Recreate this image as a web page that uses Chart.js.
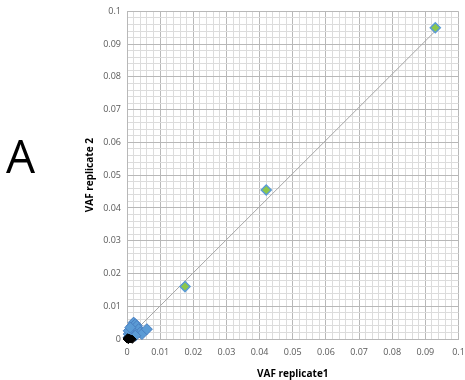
<!DOCTYPE html>
<html>
<head>
<meta charset="utf-8">
<script src="https://cdn.jsdelivr.net/npm/chart.js@4"></script>
<style>
  body { margin: 0; background: #fff; }
  #wrap { position: relative; width: 465px; height: 380px; }
  #label { position: absolute; left: 6px; top: 124px; font: 46px "Open Sans", "Liberation Sans", sans-serif; color: #000; }
</style>
</head>
<body>
<div id="wrap">
  <canvas id="chart" width="465" height="380"></canvas>
  <div id="label">A</div>
</div>
<script>
// Data
const highX = [0.0175, 0.042, 0.093]
const highY = [0.016, 0.0455, 0.095]
const lowX = [0.0005, 0.001, 0.0015, 0.002, 0.002, 0.0025, 0.003, 0.003, 0.0035, 0.004, 0.0045, 0.006, 0.001, 0.0005, 0.002, 0.0015, 0.001, 0.0025, 0.0005, 0.001]
const lowY = [0.0005, 0.001, 0.004, 0.005, 0.003, 0.0045, 0.004, 0.002, 0.003, 0.002, 0.0015, 0.003, 0.003, 0.0015, 0.0015, 0.0025, 0.002, 0.001, 0.0025, 0.0035]
const zeroX = [0, 0.0004, 0.0008, 0.0012, 0.0002, 0.0006, 0.0016]
const zeroY = [0, -0.0002, 0.0002, 0, 0.0004, 0.0001, -0.0001]
const lineX = [0, 0.093]
const lineY = [0, 0.094]

const pts = (xs, ys) => xs.map((x, i) => ({ x, y: ys[i] }))
const isMajor = v => Math.abs(v * 100 - Math.round(v * 100)) < 1e-6
const tickFont = { family: "'Open Sans', 'Liberation Sans', sans-serif", size: 9 }
const titleFont = { family: "'Open Sans', 'Liberation Sans', sans-serif", size: 10, weight: 'bold' }

const gridOpts = {
  drawTicks: false,
  color: ctx => isMajor(ctx.tick.value) ? '#b8b8b8' : '#dcdcdc',
  lineWidth: 1
}

new Chart(document.getElementById('chart'), {
  type: 'scatter',
  data: {
    datasets: [
      { label: 'fit', type: 'line', data: pts(lineX, lineY), borderColor: '#a6a6a6', borderWidth: 1, pointRadius: 0, order: 3 },
      { label: 'zero', data: pts(zeroX, zeroY), pointStyle: 'rectRot', pointRadius: 4, backgroundColor: '#000', borderColor: '#000', order: 1 },
      { label: 'low', data: pts(lowX, lowY), pointStyle: 'rectRot', pointRadius: 5.5, backgroundColor: '#5b9bd5', borderColor: '#4a7fc0', borderWidth: 1, order: 2 },
      { label: 'high', data: pts(highX, highY), pointStyle: 'rectRot', pointRadius: 5, backgroundColor: '#8cc84b', borderColor: '#5b9bd5', borderWidth: 1.5, order: 0 }
    ]
  },
  options: {
    responsive: false,
    animation: false,
    clip: false,
    layout: { padding: { left: 84, right: 0, top: 10, bottom: 0 } },
    plugins: { legend: { display: false }, tooltip: { enabled: false } },
    scales: {
      x: {
        min: 0, max: 0.1,
        ticks: {
          stepSize: 0.002, autoSkip: false, maxRotation: 0, padding: 8,
          color: '#595959', font: tickFont,
          callback: v => isMajor(v) ? +v.toFixed(2) : ''
        },
        grid: gridOpts,
        border: { color: '#b8b8b8' },
        title: { display: true, text: 'VAF replicate1', color: '#000', font: titleFont, padding: { top: 2, bottom: 0 } },
        afterFit: s => { s.height = 41; s.paddingRight = 6 }
      },
      y: {
        min: 0, max: 0.1,
        ticks: {
          stepSize: 0.002, autoSkip: false, padding: 6,
          color: '#595959', font: tickFont,
          callback: v => isMajor(v) ? +v.toFixed(2) : ''
        },
        grid: gridOpts,
        border: { color: '#b8b8b8' },
        title: { display: true, text: 'VAF replicate 2', color: '#000', font: titleFont, padding: { top: 0, bottom: 2 } },
        afterFit: s => { s.width = 43 }
      }
    }
  }
})
</script>
</body>
</html>
